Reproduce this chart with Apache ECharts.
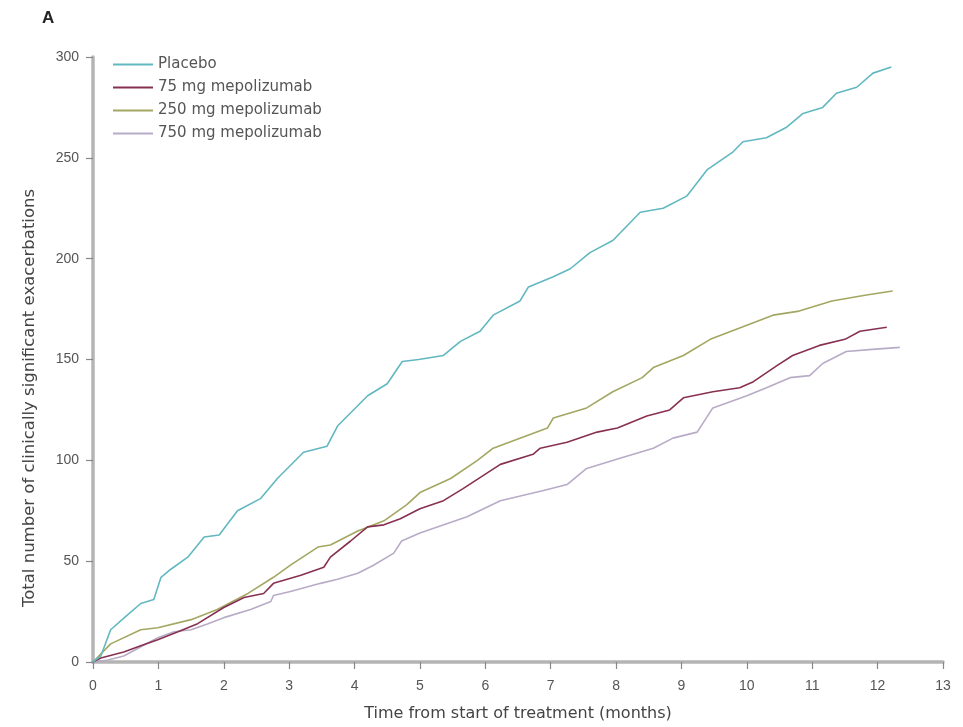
<!DOCTYPE html>
<html>
<head>
<meta charset="utf-8">
<script src="https://cdn.jsdelivr.net/npm/echarts@6/dist/echarts.min.js"></script>
<style>
  html, body { margin: 0; padding: 0; background: #fff; }
  #chart { width: 963px; height: 727px; }
</style>
</head>
<body>
<div id="chart"></div>
<script>
// series names
var seriesNames = ['Placebo', '75 mg mepolizumab', '250 mg mepolizumab', '750 mg mepolizumab'];
var lineColors = ['#62b8c0', '#873152', '#a3a762', '#b8abc7'];

// [months, cumulative exacerbations]
var placeboData = [
    [0, 0], [0.12, 3], [0.27, 16], [0.48, 22], [0.73, 29], [0.93, 31], [1.04, 42], [1.19, 46],
    [1.45, 52], [1.7, 62], [1.93, 63], [2.21, 75], [2.56, 81], [2.82, 91], [3.22, 104], [3.58, 107],
    [3.74, 117], [4.2, 132], [4.5, 138], [4.73, 149], [4.98, 150], [5.36, 152], [5.62, 159],
    [5.92, 164], [6.12, 172], [6.53, 179], [6.66, 186], [7.04, 191], [7.3, 195], [7.6, 203],
    [7.95, 209], [8.37, 223], [8.72, 225], [9.08, 231], [9.39, 244], [9.79, 253], [9.94, 258],
    [10.3, 260], [10.6, 265], [10.86, 272], [11.16, 275], [11.37, 282], [11.68, 285], [11.93, 292],
    [12.21, 295]
];
var mg75Data = [
    [0, 0], [0.12, 2], [0.47, 5], [0.73, 8], [0.99, 11], [1.3, 15], [1.6, 19], [2.0, 27],
    [2.31, 32], [2.61, 34], [2.76, 39], [3.18, 43], [3.53, 47], [3.63, 52], [3.94, 60], [4.2, 67],
    [4.45, 68], [4.7, 71], [5.0, 76], [5.36, 80], [5.66, 86], [6.23, 98], [6.73, 103], [6.84, 106],
    [7.25, 109], [7.71, 114], [8.02, 116], [8.47, 122], [8.82, 125], [9.03, 131], [9.48, 134],
    [9.89, 136], [10.1, 139], [10.46, 147], [10.7, 152], [11.11, 157], [11.5, 160], [11.73, 164],
    [12.14, 166]
];
var mg250Data = [
    [0, 0], [0.27, 9], [0.73, 16], [0.99, 17], [1.5, 21], [1.9, 26], [2.37, 34], [2.76, 42],
    [3.02, 48], [3.44, 57], [3.63, 58], [4.05, 65], [4.45, 70], [4.8, 78], [5.0, 84], [5.47, 91],
    [5.88, 100], [6.12, 106], [6.53, 111], [6.95, 116], [7.04, 121], [7.55, 126], [7.95, 134],
    [8.4, 141], [8.57, 146], [9.03, 152], [9.44, 160], [10.0, 167], [10.4, 172], [10.8, 174],
    [11.3, 179], [11.83, 182], [12.23, 184]
];
var mg750Data = [
    [0, 0], [0.23, 1], [0.47, 3], [0.99, 12], [1.24, 15], [1.5, 16], [1.76, 19], [2.0, 22],
    [2.41, 26], [2.72, 30], [2.76, 33], [3.02, 35], [3.48, 39], [3.74, 41], [4.05, 44], [4.29, 48],
    [4.6, 54], [4.72, 60], [5.0, 64], [5.72, 72], [6.23, 80], [6.89, 85], [7.25, 88], [7.55, 96],
    [8.06, 101], [8.57, 106], [8.87, 111], [9.24, 114], [9.48, 126], [10.0, 132], [10.3, 136],
    [10.66, 141], [10.96, 142], [11.16, 148], [11.52, 154], [11.92, 155], [12.34, 156]
];

var xTicks = [0, 1, 2, 3, 4, 5, 6, 7, 8, 9, 10, 11, 12, 13];
var yTicks = [0, 50, 100, 150, 200, 250, 300];

var allData = [placeboData, mg75Data, mg250Data, mg750Data];
var labelFont = '"Liberation Sans", Arial, sans-serif';
var textFont = '"DejaVu Sans", sans-serif';

var myChart = echarts.init(document.getElementById('chart'));

var option = {
    animation: false,
    backgroundColor: '#fff',
    title: {
        text: 'A',
        left: 37,
        top: 5,
        textStyle: { fontSize: 17, fontWeight: 'bold', color: '#222', fontFamily: labelFont }
    },
    graphic: [{
        // y axis title sits a bit below the axis centre in the original
        type: 'text',
        x: 30,
        y: 398,
        rotation: Math.PI / 2,
        style: {
            text: 'Total number of clinically significant exacerbations',
            font: '16.5px ' + textFont,
            fill: '#444',
            align: 'center',
            verticalAlign: 'middle'
        }
    }],
    grid: { left: 93, right: 20, top: 57, bottom: 62 },
    legend: {
        orient: 'vertical',
        left: 108,
        top: 52,
        icon: 'rect',
        itemWidth: 40,
        itemHeight: 2,
        itemGap: 8,
        data: seriesNames,
        textStyle: { fontSize: 15, color: '#555', fontFamily: textFont, lineHeight: 15 }
    },
    xAxis: {
        type: 'value',
        min: xTicks[0],
        max: xTicks[xTicks.length - 1],
        interval: 1,
        name: 'Time from start of treatment (months)',
        nameLocation: 'middle',
        nameGap: 44,
        nameTextStyle: { fontSize: 16, color: '#444', fontFamily: textFont },
        axisLine: { lineStyle: { color: '#b4b4b4', width: 3.5 } },
        axisTick: { length: 7, lineStyle: { color: '#888', width: 1.2 } },
        axisLabel: { fontSize: 14, color: '#555', margin: 17, fontFamily: labelFont },
        splitLine: { show: false }
    },
    yAxis: {
        type: 'value',
        min: yTicks[0],
        max: yTicks[yTicks.length - 1],
        interval: 50,
        axisLine: { show: true, lineStyle: { color: '#b4b4b4', width: 3.5 } },
        axisTick: { show: true, length: 7, lineStyle: { color: '#888', width: 1.2 } },
        axisLabel: { fontSize: 14, color: '#555', margin: 14, fontFamily: labelFont },
        splitLine: { show: false }
    },
    series: []
};

for (var i = 0; i < seriesNames.length; i++) {
    option.series.push({
        name: seriesNames[i],
        type: 'line',
        data: allData[i],
        showSymbol: false,
        color: lineColors[i],
        lineStyle: { width: 1.6, color: lineColors[i] },
        z: 10 - i
    });
}

myChart.setOption(option);
</script>
</body>
</html>
